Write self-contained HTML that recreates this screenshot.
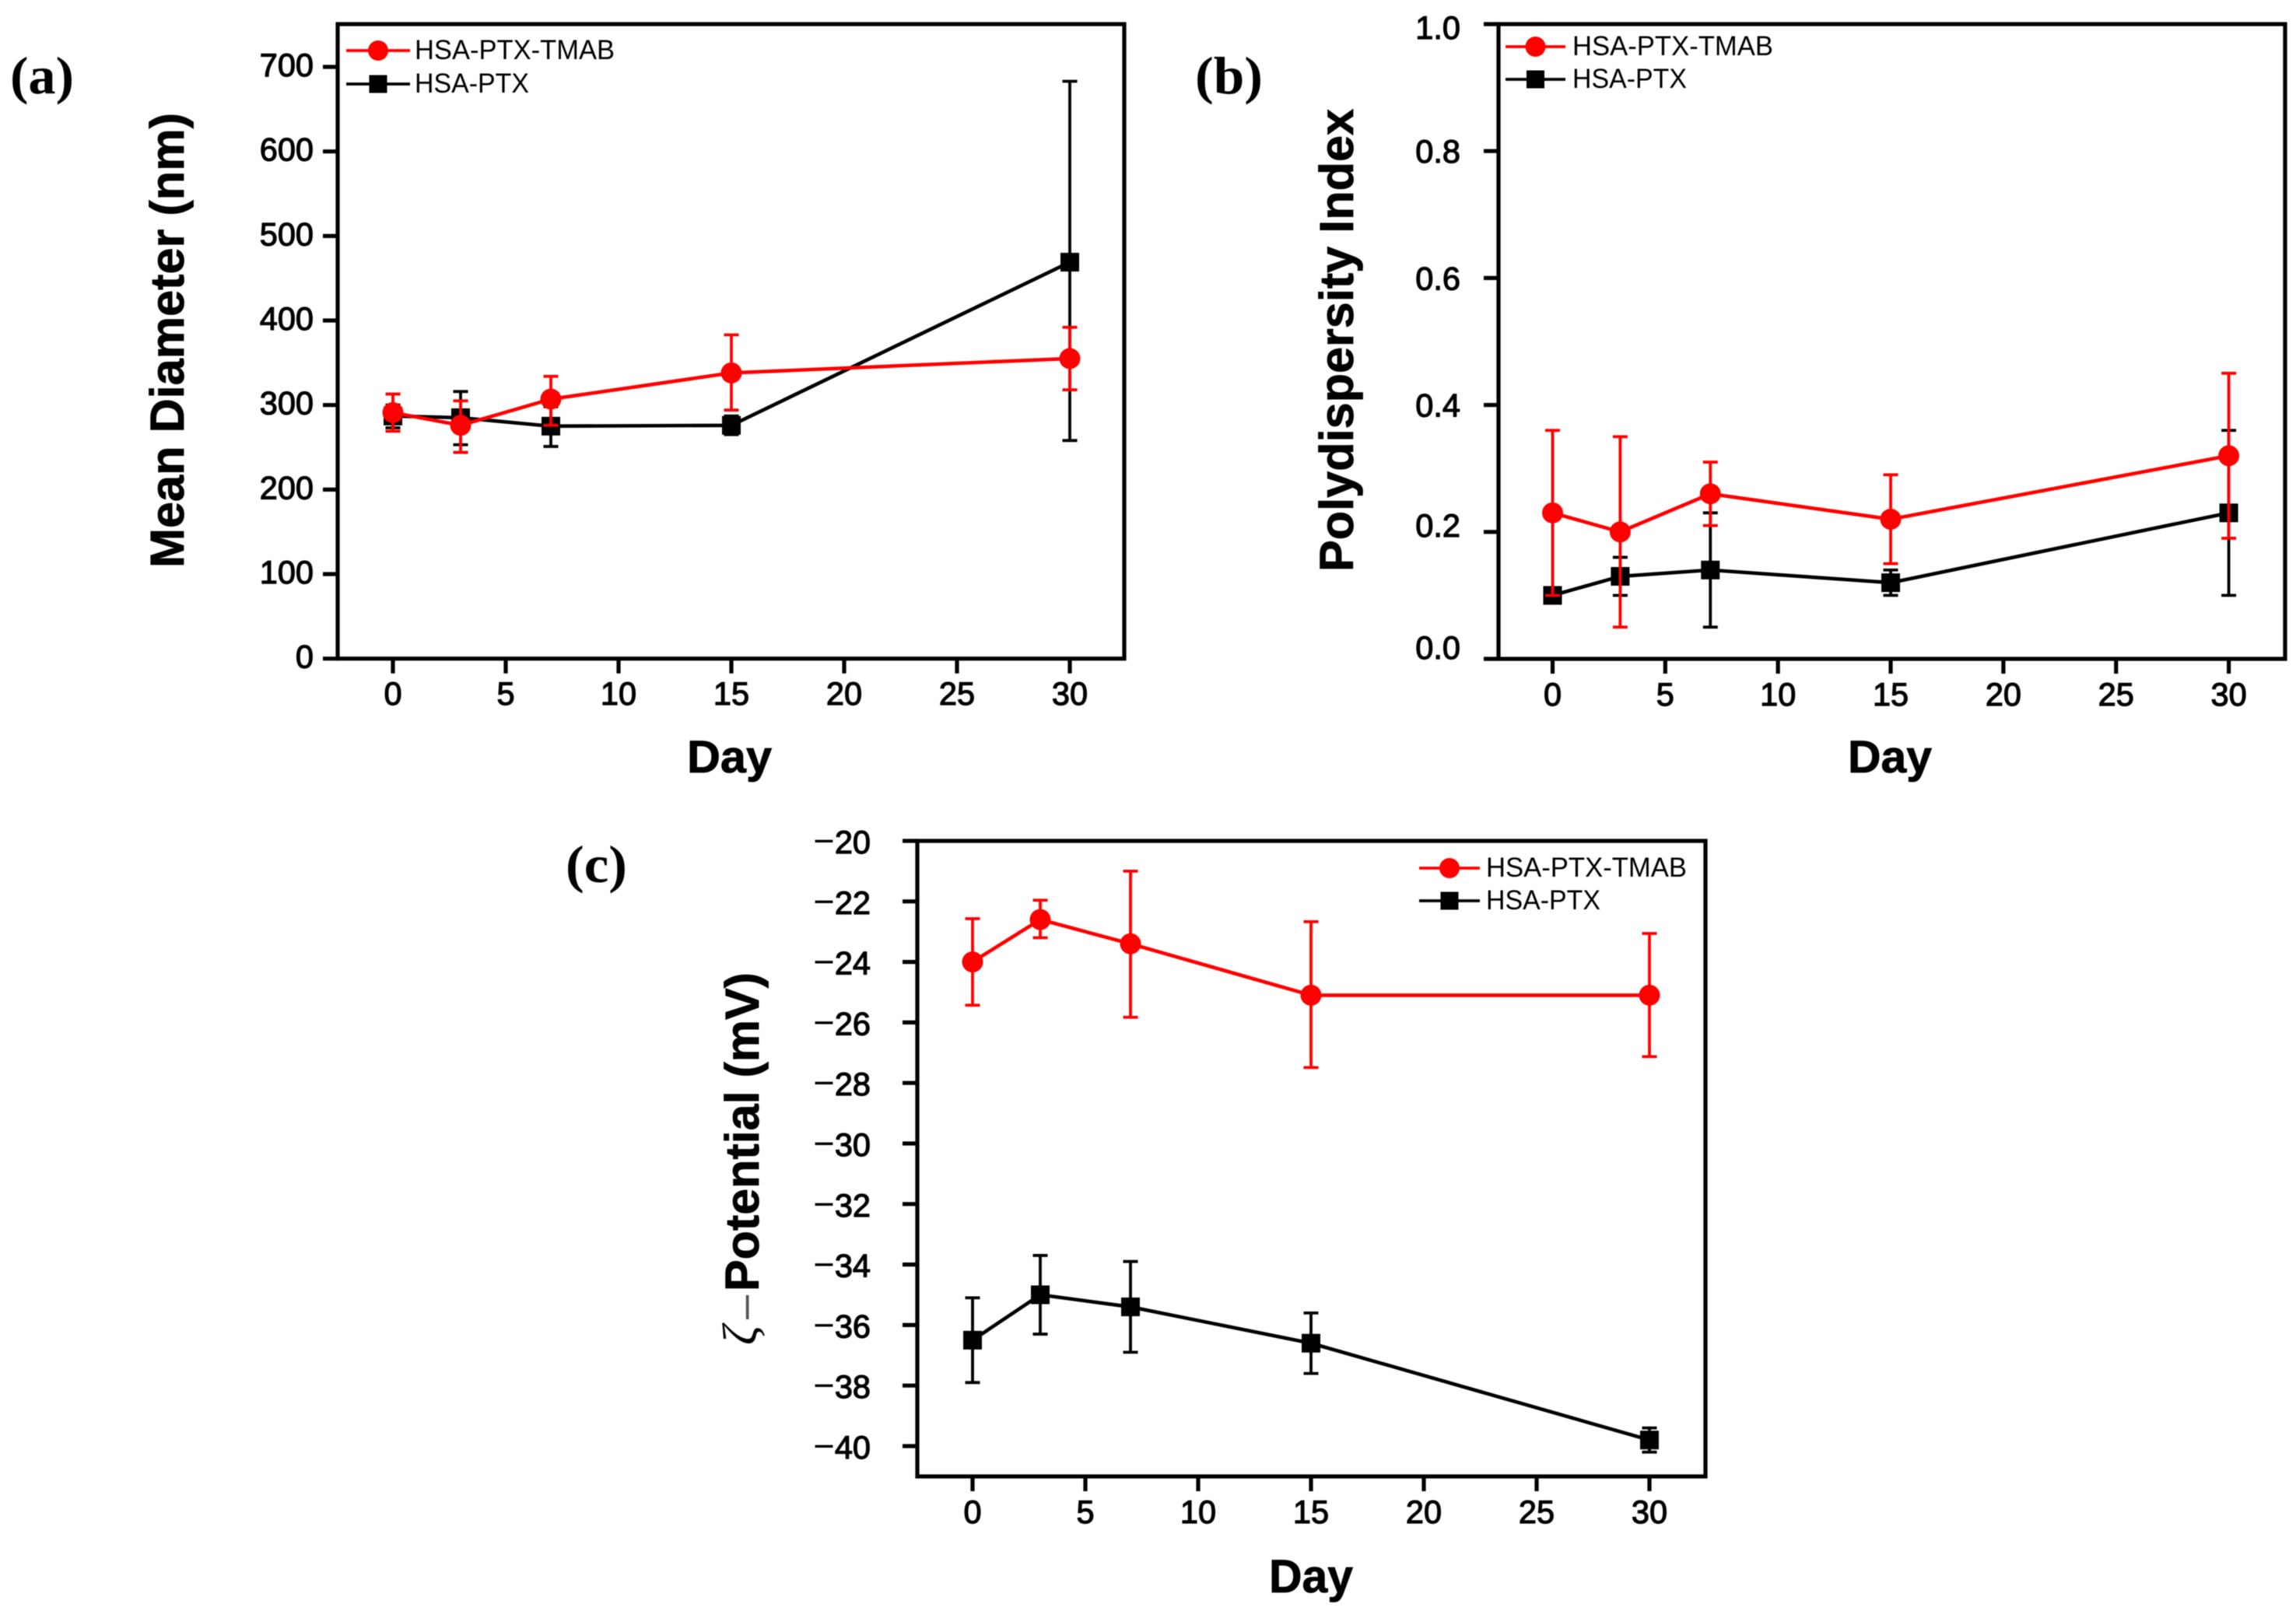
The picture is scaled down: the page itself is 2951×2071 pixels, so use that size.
<!DOCTYPE html>
<html lang="en">
<head>
<meta charset="utf-8">
<title>Nanoparticle stability over 30 days</title>
<style>
html,body{margin:0;padding:0;background:#fff;width:2951px;height:2071px;overflow:hidden}
svg{display:block;filter:blur(.6px)}
text{font-family:"Liberation Sans",sans-serif;fill:#000}
.panel-label{font-family:"Liberation Serif",serif;font-weight:bold;font-size:68px}
.axis-title{font-weight:bold;stroke:#000;stroke-width:.8px}
</style>
</head>
<body>
<svg id="figure" xmlns="http://www.w3.org/2000/svg" width="2951" height="2071" viewBox="0 0 2951 2071">
  <rect width="2951" height="2071" fill="#fff"/>
  <text class="panel-label" x="13" y="120" textLength="82" lengthAdjust="spacingAndGlyphs">(a)</text>
  <text class="panel-label" x="1536" y="120" textLength="87" lengthAdjust="spacingAndGlyphs">(b)</text>
  <text class="panel-label" x="727" y="1134" textLength="79" lengthAdjust="spacingAndGlyphs">(c)</text>

  <text class="axis-title" font-size="61" transform="translate(236 730) rotate(-90)" textLength="585" lengthAdjust="spacingAndGlyphs">Mean Diameter (nm)</text>
  <text class="axis-title" font-size="58" x="883" y="993" textLength="109" lengthAdjust="spacingAndGlyphs">Day</text>

  <text class="axis-title" font-size="61" transform="translate(1739 735) rotate(-90)" textLength="595" lengthAdjust="spacingAndGlyphs">Polydispersity Index</text>
  <text class="axis-title" font-size="58" x="2375" y="993" textLength="108" lengthAdjust="spacingAndGlyphs">Day</text>

  <g>
    <text font-size="62" font-style="italic" style="font-family:'Liberation Serif','DejaVu Serif',serif" transform="translate(972 1729) rotate(-90)">ζ</text>
    <text font-size="56" style="fill:#555" transform="translate(975 1696) rotate(-90)">–</text>
    <text class="axis-title" font-size="61" transform="translate(975 1660) rotate(-90)" textLength="410" lengthAdjust="spacingAndGlyphs">Potential (mV)</text>
  </g>
  <text class="axis-title" font-size="60" x="1631" y="2047" textLength="108" lengthAdjust="spacingAndGlyphs">Day</text>
</svg>

<script>
// Shared x values and tick labels
const days = [0, 3, 7, 15, 30];
const xTickValues = [0, 5, 10, 15, 20, 25, 30];
const xTickLabels = ['0', '5', '10', '15', '20', '25', '30'];
const legendNames = ['HSA-PTX-TMAB', 'HSA-PTX'];

// Panel (a) Mean diameter
const aTickValues = [0, 100, 200, 300, 400, 500, 600, 700];
const aTickLabels = ['0', '100', '200', '300', '400', '500', '600', '700'];
const aRedMean = [291, 276, 307, 338, 355];
const aRedLow = [269, 244, 276, 294, 318];
const aRedHigh = [313, 305, 334, 383, 392];
const aBlackMean = [287, 285, 275, 276, 469];
const aBlackLow = [273, 253, 251, 265, 258];
const aBlackHigh = [300, 316, 298, 287, 683];

// Panel (b) Polydispersity index
const bTickValues = [0, 0.2, 0.4, 0.6, 0.8, 1];
const bTickLabels = ['0.0', '0.2', '0.4', '0.6', '0.8', '1.0'];
const bRedMean = [0.23, 0.2, 0.26, 0.22, 0.32];
const bRedLow = [0.1, 0.05, 0.21, 0.15, 0.19];
const bRedHigh = [0.36, 0.35, 0.31, 0.29, 0.45];
const bBlackMean = [0.1, 0.13, 0.14, 0.12, 0.23];
const bBlackLow = [0.095, 0.1, 0.05, 0.1, 0.1];
const bBlackHigh = [0.105, 0.16, 0.23, 0.14, 0.36];

// Panel (c) Zeta potential
const cTickValues = [-20, -22, -24, -26, -28, -30, -32, -34, -36, -38, -40];
const cTickLabels = ['−20', '−22', '−24', '−26', '−28', '−30', '−32', '−34', '−36', '−38', '−40'];
const cRedMean = [-24, -22.6, -23.4, -25.1, -25.1];
const cRedLow = [-25.43, -23.2, -25.83, -27.49, -27.13];
const cRedHigh = [-22.57, -21.96, -21, -22.67, -23.06];
const cBlackMean = [-36.5, -35, -35.4, -36.6, -39.8];
const cBlackLow = [-37.9, -36.3, -36.9, -37.6, -40.2];
const cBlackHigh = [-35.1, -33.7, -33.9, -35.6, -39.4];

const SVGNS = 'http://www.w3.org/2000/svg';
const RED = '#ff0000';
const BLACK = '#000000';
const figure = document.getElementById('figure');

function mk(parent, tag, attrs) {
  const el = document.createElementNS(SVGNS, tag);
  for (const k in attrs) el.setAttribute(k, attrs[k]);
  parent.appendChild(el);
  return el;
}

function drawPanel(p) {
  const xAxis = d => p.x0 + d * p.dx;
  const yAxis = v => p.yBase + (v - p.vBase) * p.pxPerUnit;

  const panel = mk(figure, 'g', {});
  
  

  const frame = mk(panel, 'rect', {x: p.left, y: p.top, width: p.right - p.left, height: p.bottom - p.top, fill: 'none', stroke: BLACK, 'stroke-width': 5.2});
  
  

  p.yTicks.forEach((v, i) => {
    const tick = mk(panel, 'line', {x1: p.left - 19, x2: p.left, y1: yAxis(v), y2: yAxis(v), stroke: BLACK, 'stroke-width': 5.2});
    
    
    const label = mk(panel, 'text', {x: p.labelRight, y: yAxis(v) + p.labelShift(v), 'text-anchor': 'end', 'font-size': 41.5, stroke: BLACK, 'stroke-width': 1.2});
    
    
    const s = p.yLabels[i];
    if (s.charAt(0) === '−') {
      const m = mk(label, 'tspan', {stroke: 'none', 'font-size': 47});
      
      
      m.textContent = '−';
      label.appendChild(document.createTextNode(s.slice(1)));
    } else {
      label.textContent = s;
    }
  });

  xTickValues.forEach((d, i) => {
    const tick = mk(panel, 'line', {x1: xAxis(d), x2: xAxis(d), y1: p.bottom, y2: p.bottom + 19, stroke: BLACK, 'stroke-width': 5.2});
    
    
    const label = mk(panel, 'text', {x: xAxis(d), y: p.xLabelBase, 'text-anchor': 'middle', 'font-size': 41.5, stroke: BLACK, 'stroke-width': 1.2});
    
    
    label.textContent = xTickLabels[i];
  });

  drawSeries(panel, 'black', BLACK, p.blackMean, p.blackLow, p.blackHigh, xAxis, yAxis);
  drawSeries(panel, 'red', RED, p.redMean, p.redLow, p.redHigh, xAxis, yAxis);

  const legend = mk(panel, 'g', {});
  
  
  legendEntry(legend, RED, true, legendNames[0], p.leg, p.leg.y1, p.leg.w1);
  legendEntry(legend, BLACK, false, legendNames[1], p.leg, p.leg.y2, p.leg.w2);
}

function drawSeries(parent, id, color, mean, low, high, xAxis, yAxis) {
  const g = mk(parent, 'g', {});
  
  

  days.forEach((d, i) => {
    const x = xAxis(d);
    const stem = mk(g, 'line', {x1: x, x2: x, y1: yAxis(low[i]), y2: yAxis(high[i]), stroke: color, 'stroke-width': 3.8});
    
    
    [low[i], high[i]].forEach(v => {
      const cap = mk(g, 'line', {x1: x - 9.5, x2: x + 9.5, y1: yAxis(v), y2: yAxis(v), stroke: color, 'stroke-width': 3.8});
      
      
    });
  });

  const pts = days.map((d, i) => xAxis(d) + ',' + yAxis(mean[i])).join(' ');
  const line = mk(g, 'polyline', {points: pts, fill: 'none', stroke: color, 'stroke-width': 4.6, 'stroke-linejoin': 'round'});
  
  

  days.forEach((d, i) => {
    const x = xAxis(d), y = yAxis(mean[i]);
    const marker = id === 'red'
      ? mk(g, 'circle', {cx: x, cy: y, r: 13.5, fill: color})
      : mk(g, 'rect', {x: x - 12, y: y - 12, width: 24, height: 24, fill: color});
    
    
  });
}

function legendEntry(parent, color, round, name, leg, y, w) {
  const g = mk(parent, 'g', {});
  
  
  const key = mk(g, 'line', {x1: leg.x1, x2: leg.x2, y1: y, y2: y, stroke: color, 'stroke-width': 3.8});
  
  
  const cx = (leg.x1 + leg.x2) / 2;
  const marker = round
    ? mk(g, 'circle', {cx: cx, cy: y, r: 13, fill: color})
    : mk(g, 'rect', {x: cx - 11.5, y: y - 11.5, width: 23, height: 23, fill: color});
  
  
  const t = mk(g, 'text', {x: leg.tx, y: y + 11, 'font-size': 35, textLength: w, lengthAdjust: 'spacingAndGlyphs'});
  
  
  t.textContent = name;
}

drawPanel({
  id: 'a', left: 434, right: 1445, top: 31, bottom: 846.7,
  x0: 505, dx: 29, yBase: 846.7, vBase: 0, pxPerUnit: -1.0867,
  labelRight: 403, xLabelBase: 906, labelShift: () => 12,
  yTicks: aTickValues, yLabels: aTickLabels,
  redMean: aRedMean, redLow: aRedLow, redHigh: aRedHigh,
  blackMean: aBlackMean, blackLow: aBlackLow, blackHigh: aBlackHigh,
  leg: {x1: 445, x2: 527, tx: 533, y1: 65, y2: 108, w1: 257, w2: 147}
});

drawPanel({
  id: 'b', left: 1926, right: 2937, top: 31, bottom: 847,
  x0: 1995.5, dx: 28.97, yBase: 847, vBase: 0, pxPerUnit: -816,
  labelRight: 1877, xLabelBase: 907,
  labelShift: v => v === 0 ? 0 : v === 0.2 ? 6 : v === 1 ? 19 : 15,
  yTicks: bTickValues, yLabels: bTickLabels,
  redMean: bRedMean, redLow: bRedLow, redHigh: bRedHigh,
  blackMean: bBlackMean, blackLow: bBlackLow, blackHigh: bBlackHigh,
  leg: {x1: 1935, x2: 2012, tx: 2021, y1: 60, y2: 102, w1: 258, w2: 147}
});

drawPanel({
  id: 'c', left: 1179, right: 2192, top: 1081, bottom: 1898,
  x0: 1250, dx: 29, yBase: 1081, vBase: -20, pxPerUnit: -38.9,
  labelRight: 1119, xLabelBase: 1958, labelShift: () => 16,
  yTicks: cTickValues, yLabels: cTickLabels,
  redMean: cRedMean, redLow: cRedLow, redHigh: cRedHigh,
  blackMean: cBlackMean, blackLow: cBlackLow, blackHigh: cBlackHigh,
  leg: {x1: 1824, x2: 1902, tx: 1910, y1: 1116, y2: 1158, w1: 258, w2: 147}
});
</script>
</body>
</html>
